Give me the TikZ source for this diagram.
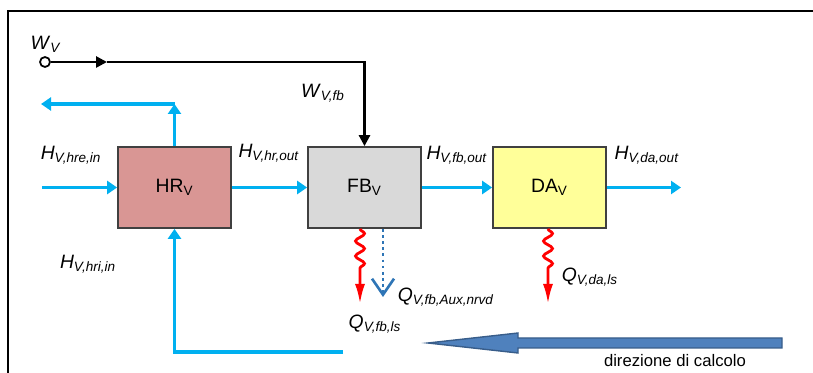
\documentclass[tikz,border=0pt]{standalone}
\usepackage{fontspec}
\setmainfont{Liberation Sans}
\usepackage{tikz}
\usetikzlibrary{arrows.meta, decorations.pathmorphing}
\definecolor{flowcyan}{RGB}{0,176,240}
\definecolor{auxblue}{RGB}{46,117,182}
\definecolor{hrred}{RGB}{217,150,148}
\definecolor{fbgray}{RGB}{217,217,217}
\definecolor{dayellow}{RGB}{255,255,153}
\definecolor{calcblue}{RGB}{79,129,189}
\definecolor{calcedge}{RGB}{56,93,138}
\newcommand{\flab}[2]{\textit{#1}\textsubscript{\textit{#2}}}

\begin{document}
\begin{tikzpicture}[
  x=0.2mm, y=-0.2mm,
  every node/.style={font=\fontsize{11}{13}\selectfont},
  unit/.style={draw=black!75, line width=1pt, minimum width=22.6mm,
               minimum height=16.2mm, inner sep=0pt},
  flow/.style={line width=2.2pt, flowcyan, -{Triangle[length=2mm, width=2.6mm]}},
  work/.style={line width=1.5pt, black, -{Triangle[length=2.2mm, width=2.2mm]}},
  heat/.style={line width=1.6pt, red, decorate,
               decoration={snake, amplitude=0.9mm, segment length=3mm, post length=6mm},
               -{Latex[length=4mm, width=2mm]}},
  aux/.style={line width=1.5pt, auxblue, dotted,
              -{Straight Barb[length=3.2mm, width=4.4mm]}},
  lab/.style={inner sep=1pt}
]
\useasboundingbox (0,0) rectangle (813,373);
\draw[line width=0.9pt] (813,11) -- (8,11) -- (8,373);

% the three units
\node[unit, fill=hrred]    (hr) at (174.5,187.5) {HR\textsubscript{V}};
\node[unit, fill=fbgray]   (fb) at (364.5,187.5) {FB\textsubscript{V}};
\node[unit, fill=dayellow] (da) at (549.5,187.5) {DA\textsubscript{V}};

\node[circle, draw, line width=1pt, fill=white, inner sep=0pt, minimum size=2mm] (wv) at (45,62) {};
\coordinate (wmid)   at (107,62);
\coordinate (hrein)  at (42,187.5);
\coordinate (hrtop)  at (174.5,104);
\coordinate (hrex)   at (41,104);
\coordinate (hrback) at (343,352);
\coordinate (daout)  at (681,187.5);
\coordinate (fbls)   at (360,304);
\coordinate (fbaux)  at (383,297);
\coordinate (dals)   at (548,304);

% flows
\draw[flow] (hrein) -- (hr.west);
\draw[flow] (hr.east) -- (fb.west);
\draw[flow] (fb.east) -- (da.west);
\draw[flow] (da.east) -- (daout);
\draw[flow] (hr.north) -- (hrtop);
\draw[flow] (hrtop) -- (hrex);
\draw[flow] (hrback) -| (hr.south);
\draw[work] (wv) -- (wmid);
\draw[work] (wmid) -| (fb.north);

% losses
\draw[heat] (fbls |- fb.south) -- (fbls);
\draw[aux]  (fbaux |- fb.south) -- (fbaux);
\draw[heat] (dals |- da.south) -- (dals);

% labels
\node[lab] (lwv)    at (46,44)   {\flab{W}{V}};
\node[lab] (lwfb)   at (323,93)  {\flab{W}{V,fb}};
\node[lab] (lhrein) at (71,155)  {\flab{H}{V,hre,in}};
\node[lab] (lhrout) at (269,153) {\flab{H}{V,hr,out}};
\node[lab] (lfbout) at (457,155) {\flab{H}{V,fb,out}};
\node[lab] (ldaout) at (647,155) {\flab{H}{V,da,out}};
\node[lab] (lhriin) at (88,264)  {\flab{H}{V,hri,in}};
\node[lab] (lfbaux) at (446,297) {\flab{Q}{V,fb,Aux,nrvd}};
\node[lab] (lfbls)  at (375,324) {\flab{Q}{V,fb,ls}};
\node[lab] (ldals)  at (590,277) {\flab{Q}{V,da,ls}};

% calculation direction
\filldraw[fill=calcblue, draw=calcedge, line width=0.8pt]
  (782,338) -- (518,338) -- (518,333) -- (428,343) -- (518,353) -- (518,348) -- (782,348) -- cycle;
\node[lab, font=\fontsize{9.5}{11}\selectfont] (ldir) at (675,361) {direzione di calcolo};
\end{tikzpicture}
\end{document}
